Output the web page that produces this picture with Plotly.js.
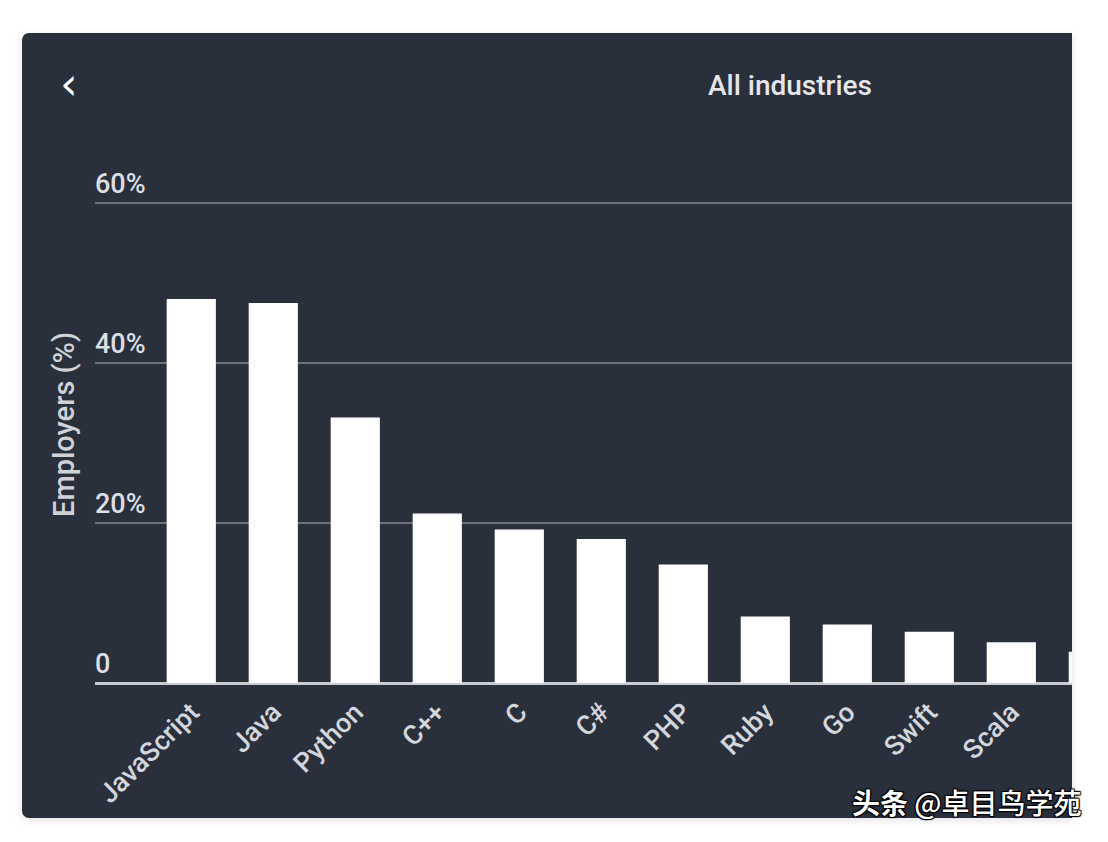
<!DOCTYPE html>
<html>
<head>
<meta charset="utf-8">
<script src="https://cdn.plot.ly/plotly-3.0.1.min.js"></script>
<style>
  html, body { margin: 0; padding: 0; background: #ffffff; width: 1108px; height: 842px; overflow: hidden; }
  #panel { position: absolute; left: 22px; top: 33px; width: 1050px; height: 785px;
           background: #2a2f3c; border-radius: 7px 0 0 7px;
           box-shadow: 0 2px 8px rgba(0,0,0,0.12); }
  #chart { position: absolute; left: 0; top: 0; width: 1108px; height: 842px; }
</style>
</head>
<body>
<div id="panel"></div>
<div id="chart"></div>
<script>
// Data
const languages = ["JavaScript", "Java", "Python", "C++", "C", "C#", "PHP", "Ruby", "Go", "Swift", "Scala", "TypeScript"];
const employersPct = [48.0, 47.5, 33.2, 21.2, 19.2, 18.0, 14.8, 8.3, 7.3, 6.4, 5.1, 3.9];
const yTickVals = [0, 20, 40, 60];
const yTickText = ["0", "20%", "40%", "60%"];
const chartTitle = "All industries";
const yTitle = "Employers (%)";
const watermark = "<b>头条</b> @卓目鸟学苑";

const trace = {
  type: "bar",
  x: languages,
  y: employersPct,
  marker: { color: "#ffffff", line: { width: 0 } },
  hoverinfo: "x+y"
};

const layout = {
  width: 1108,
  height: 842,
  paper_bgcolor: "rgba(0,0,0,0)",
  plot_bgcolor: "rgba(0,0,0,0)",
  margin: { l: 95, r: 36, t: 123, b: 159, pad: 0 },
  bargap: 0.4,
  showlegend: false,
  font: { family: "Roboto, 'Noto Sans', sans-serif", color: "#d6d9df" },
  title: {
    text: chartTitle,
    font: { family: "Roboto, sans-serif", size: 28, color: "#e4e6ea", weight: 500 },
    xref: "container", x: 0.713, xanchor: "center",
    yref: "container", y: 0.899, yanchor: "middle"
  },
  xaxis: {
    type: "category",
    range: [-1.174, 10.74],
    showgrid: false,
    zeroline: false,
    showline: false,
    ticks: "",
    tickangle: -45,
    ticklabelstandoff: 7,
    tickfont: { family: "Roboto, sans-serif", size: 27, color: "#d3d6dc", weight: 500 },
    automargin: false,
    fixedrange: true
  },
  yaxis: {
    range: [0, 70],
    tickvals: yTickVals,
    ticktext: yTickText,
    ticklabelposition: "inside",
    ticklabelshift: -19,
    ticklabelstandoff: -3,
    ticks: "",
    tickfont: { family: "Roboto, sans-serif", size: 27, color: "#dcdfe4", weight: 500 },
    showgrid: true,
    gridcolor: "#6c717c",
    gridwidth: 2,
    zeroline: true,
    zerolinecolor: "#c9ccd2",
    zerolinewidth: 3,
    showline: false,
    automargin: false,
    fixedrange: true
  },
  annotations: [
    {
      text: yTitle,
      xref: "paper", yref: "paper",
      x: (64 - 95) / 977, y: (683 - 425) / 560,
      xanchor: "center", yanchor: "middle",
      textangle: -90,
      showarrow: false,
      font: { family: "Roboto, sans-serif", size: 29, color: "#cfd2d8", weight: 500 }
    },
    {
      text: "‹",
      xref: "paper", yref: "paper",
      x: (69 - 95) / 977, y: (683 - 83) / 560,
      xanchor: "center", yanchor: "middle",
      showarrow: false,
      font: { family: "'DejaVu Sans', sans-serif", size: 44, color: "#ffffff" }
    },
    {
      text: watermark,
      xref: "paper", yref: "paper",
      x: (850 - 95) / 977, y: (683 - 802) / 560,
      xanchor: "left", yanchor: "middle",
      showarrow: false,
      font: { family: "'Noto Sans CJK SC', sans-serif", size: 28, color: "#ffffff", weight: 500,
              shadow: "1px 1px 1px #000, -1px -1px 1px #000, 1px -1px 1px #000, -1px 1px 1px #000" }
    }
  ]
};

Plotly.newPlot("chart", [trace], layout, { displayModeBar: false, staticPlot: true });
</script>
</body>
</html>
